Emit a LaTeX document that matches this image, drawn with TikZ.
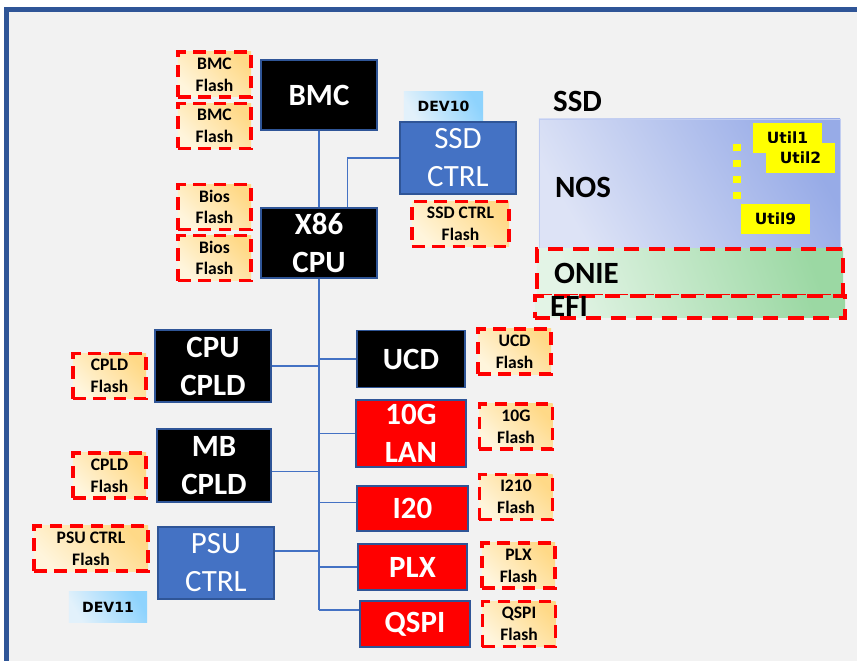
\documentclass[tikz,border=0pt]{standalone}
\usepackage{fontspec}
\setmainfont{Carlito}
\newfontfamily\tagfont{DejaVu Sans}
\usetikzlibrary{calc}
\definecolor{framebl}{HTML}{2F5597}
\definecolor{panelgray}{HTML}{F2F2F2}
\definecolor{busblue}{HTML}{4472C4}
\definecolor{chipred}{HTML}{FF0000}
\definecolor{flashred}{HTML}{FF0000}
\definecolor{flashlo}{HTML}{FFF5DC}
\definecolor{flashhi}{HTML}{FFD987}
\definecolor{devlo}{HTML}{E2F1FB}
\definecolor{devhi}{HTML}{8ED3FD}
\definecolor{noslo}{HTML}{DDE3F6}
\definecolor{noshi}{HTML}{97ABE7}
\definecolor{onielo}{HTML}{E3F4E6}
\definecolor{oniehi}{HTML}{9BD8A3}
\definecolor{utilyel}{HTML}{FFFF00}
\tikzset{
  flashbox/.style={draw=flashred, line width=2.2pt, dash pattern=on 9pt off 5.5pt, bottom color=flashlo, top color=flashhi, shading angle=-45, minimum width=1.825cm, minimum height=1.125cm, inner sep=0pt, align=center, font=\fontsize{12.5}{15.5}\selectfont\bfseries},
  chip/.style={draw=framebl, line width=1pt, fill=black, text=white, minimum width=2.9cm, minimum height=1.75cm, inner sep=0pt, align=center, font=\fontsize{22}{27}\selectfont\bfseries},
  redchip/.style={chip, fill=chipred},
  bluechip/.style={chip, fill=busblue, font=\fontsize{22}{27}\selectfont},
  devtag/.style={bottom color=devlo, top color=devhi, shading angle=-60, minimum width=1.975cm, minimum height=0.725cm, inner sep=0pt, font=\tagfont\bfseries\fontsize{10}{11}\selectfont},
  utilbox/.style={fill=utilyel, minimum width=1.725cm, minimum height=0.75cm, inner sep=0pt, font=\tagfont\bfseries\fontsize{11}{12}\selectfont},
  nospanel/.style={draw=noshi!60, line width=0.4pt, bottom color=noslo, top color=noshi, shading angle=-60, minimum width=7.525cm, minimum height=3.275cm, inner sep=0pt},
  partbox/.style={draw=flashred, line width=2.4pt, dash pattern=on 11pt off 7pt, bottom color=onielo, top color=oniehi, shading angle=-70, inner sep=0pt},
  regionlbl/.style={inner sep=0pt, font=\fontsize{22}{26}\selectfont\bfseries},
  bus/.style={draw=busblue, line width=0.8pt},
  utildots/.style={draw=utilyel, line width=5pt, dash pattern=on 5pt off 6.3pt},
}
\begin{document}
\begin{tikzpicture}[x=0.025cm,y=-0.025cm]
  \useasboundingbox (0,0) rectangle (857,661);
  % panel and frame
  \fill[panelgray] (4,7) rectangle (857,661);
  \draw[framebl, line width=3.6pt] (6.5,661) -- (6.5,9.5) -- (857,9.5);
  % ssd side
  \node[regionlbl] (ssdlbl) at (577.5,101.5) {SSD};
  \node[nospanel] (nos) at (689.5,184.5) {};
  \node[regionlbl] (noslbl) at (583,187) {NOS};
  \node[utilbox] (utila) at (787.5,138) {Util1};
  \node[utilbox] (utilb) at (800.5,158) {Util2};
  \node[utilbox] (utilc) at (775.5,219) {Util9};
  \coordinate (dotstop) at (737,144);
  \draw[utildots] (dotstop) -- (dotstop |- utilc.north);
  \node[partbox, minimum width=7.65cm, minimum height=1.175cm] (onie) at (690,272.5) {};
  \node[partbox, minimum width=7.75cm, minimum height=0.55cm] (efi) at (690,307) {};
  \node[regionlbl] (onielbl) at (586.5,273.5) {ONIE};
  \node[regionlbl] (efilbl) at (569,306) {EFI};
  % flashes
  \node[flashbox] (bmcflasha) at (214.5,74.5) {BMC\\Flash};
  \node[flashbox] (bmcflashb) at (214.5,126) {BMC\\Flash};
  \node[flashbox] (biosflasha) at (214.5,207) {Bios\\Flash};
  \node[flashbox] (biosflashb) at (214.5,258) {Bios\\Flash};
  \node[flashbox, minimum width=2.425cm] (ssdflash) at (460.5,224) {SSD CTRL\\Flash};
  \node[flashbox] (cpucpldflash) at (109.5,376) {CPLD\\Flash};
  \node[flashbox] (mbcpldflash) at (109.5,475.5) {CPLD\\Flash};
  \node[flashbox, minimum width=2.85cm] (psuflash) at (91,548.5) {PSU CTRL\\Flash};
  \node[flashbox] (ucdflash) at (514.5,351.5) {UCD\\Flash};
  \node[flashbox] (tengflash) at (516,426.5) {10G\\Flash};
  \node[flashbox] (iflash) at (516,497) {I210\\Flash};
  \node[flashbox] (plxflash) at (518.5,565.5) {PLX\\Flash};
  \node[flashbox] (qspiflash) at (519,624) {QSPI\\Flash};
  % chips
  \node[devtag] (dev10) at (443.5,106.5) {DEV10};
  \node[devtag, minimum width=1.95cm, minimum height=0.75cm] (dev11) at (108,607) {DEV11};
  \node[chip] (bmc) at (319,95) {BMC};
  \node[chip] (x86) at (319,243) {X86\\CPU};
  \node[bluechip, minimum height=1.8cm] (ssdctrl) at (458,158) {SSD\\CTRL};
  \node[chip, minimum height=1.8cm] (cpucpld) at (213,366) {CPU\\CPLD};
  \node[chip, minimum width=2.85cm, minimum height=1.825cm] (mbcpld) at (214,465.5) {MB\\CPLD};
  \node[bluechip, minimum height=1.8cm] (psuctrl) at (216,563) {PSU\\CTRL};
  \node[chip, minimum width=2.7cm, minimum height=1.425cm] (ucd) at (411,359) {UCD};
  \node[redchip, minimum width=2.75cm, minimum height=1.675cm] (tenglan) at (411,433.5) {10G\\LAN};
  \node[redchip, minimum width=2.775cm, minimum height=1.125cm] (itwenty) at (412.5,508.5) {I20};
  \node[redchip, minimum width=2.725cm, minimum height=1.15cm] (plx) at (412.5,567) {PLX};
  \node[redchip, minimum width=2.75cm, minimum height=1.15cm] (qspi) at (415,624) {QSPI};
  % bus
  \coordinate (busbot) at (319,610);
  \draw[bus] (bmc.south) -- (x86.north);
  \draw[bus] (x86.south) -- (busbot);
  \draw[bus] ([xshift=20.5pt]x86.north) |- (ssdctrl.west);
  \draw[bus] (cpucpld.east) -- (cpucpld.east -| busbot);
  \draw[bus] ([yshift=-4pt]mbcpld.east) -- ([yshift=-4pt]mbcpld.east -| busbot);
  \draw[bus] ([yshift=8.5pt]psuctrl.east) -- ([yshift=8.5pt]psuctrl.east -| busbot);
  \draw[bus] (ucd.west) -- (ucd.west -| busbot);
  \draw[bus] (tenglan.west) -- (tenglan.west -| busbot);
  \draw[bus] ([yshift=4pt]itwenty.west) -- ([yshift=4pt]itwenty.west -| busbot);
  \draw[bus] (plx.west) -- (plx.west -| busbot);
  \draw[bus] (busbot) -- (busbot -| qspi.west);
\end{tikzpicture}
\end{document}
